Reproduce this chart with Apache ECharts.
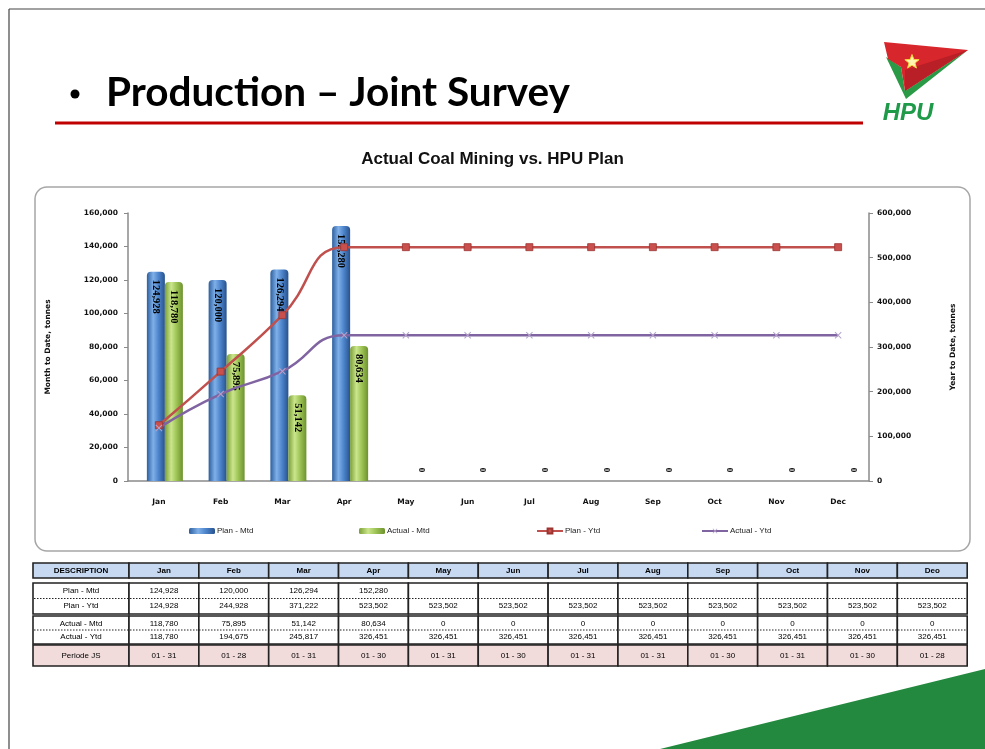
<!DOCTYPE html>
<html>
<head>
<meta charset="utf-8">
<script src="https://cdn.jsdelivr.net/npm/echarts@6/dist/echarts.min.js"></script>
<style>
html, body { margin: 0; padding: 0; background: #fff; }
#chart { width: 985px; height: 749px; }
</style>
</head>
<body>
<div id="chart"></div>
<script>
// data
var months = ['Jan', 'Feb', 'Mar', 'Apr', 'May', 'Jun', 'Jul', 'Aug', 'Sep', 'Oct', 'Nov', 'Dec'];
var tableMonths = ['Jan', 'Feb', 'Mar', 'Apr', 'May', 'Jun', 'Jul', 'Aug', 'Sep', 'Oct', 'Nov', 'Deo'];
var planMtd = [124928, 120000, 126294, 152280, null, null, null, null, null, null, null, null];
var actualMtd = [118780, 75895, 51142, 80634, 0, 0, 0, 0, 0, 0, 0, 0];
var planYtd = [124928, 244928, 371222, 523502, 523502, 523502, 523502, 523502, 523502, 523502, 523502, 523502];
var actualYtd = [118780, 194675, 245817, 326451, 326451, 326451, 326451, 326451, 326451, 326451, 326451, 326451];
var periode = ['01 - 31', '01 - 28', '01 - 31', '01 - 30', '01 - 31', '01 - 30', '01 - 31', '01 - 31', '01 - 30', '01 - 31', '01 - 30', '01 - 28'];
var mtdAxis = { min: 0, max: 160000, interval: 20000 };
var ytdAxis = { min: 0, max: 600000, interval: 100000 };

function fmt(v) {
  if (v === null || v === undefined) return '';
  return v.toLocaleString('en-US');
}

var myChart = echarts.init(document.getElementById('chart'));

var axisFont = { color: '#111', fontFamily: 'DejaVu Sans', fontWeight: 'bold', fontSize: 7.5 };
var barLabel = {
  show: true, position: 'insideTop', rotate: -90, align: 'left', verticalAlign: 'middle',
  distance: 8, color: '#000', fontFamily: 'Liberation Serif', fontWeight: 'bold', fontSize: 10.5,
  formatter: function (p) { return fmt(p.value); }
};

var blueGrad = new echarts.graphic.LinearGradient(0, 0, 1, 0, [
  { offset: 0, color: '#2d5f9f' }, { offset: 0.35, color: '#7fb0e8' },
  { offset: 0.65, color: '#4c84cb' }, { offset: 1, color: '#28528d' }
]);
var greenGrad = new echarts.graphic.LinearGradient(0, 0, 1, 0, [
  { offset: 0, color: '#7a9f36' }, { offset: 0.35, color: '#cbe68c' },
  { offset: 0.65, color: '#9dc355' }, { offset: 1, color: '#6d922e' }
]);

var actualMtdData = actualMtd.map(function (v) {
  if (v === 0) {
    return { value: 0, label: { position: 'top', distance: 11, rotate: -90, align: 'center', verticalAlign: 'middle', fontSize: 9 } };
  }
  return v;
});

// ---- table built from the same arrays ----
var tX0 = 33, descW = 96, colW = 69.85;
var graphics = [];
function cellX(i) { return tX0 + descW + colW * i; }
function addText(txt, x, y, opts) {
  opts = opts || {};
  graphics.push({
    type: 'text', z: 20,
    style: {
      text: txt, x: x, y: y, textAlign: opts.align || 'center', textVerticalAlign: 'middle',
      font: (opts.weight || 'normal') + ' ' + (opts.size || 8) + 'px "Liberation Sans", Arial, sans-serif',
      fill: opts.color || '#000'
    }
  });
}
function addRect(x, y, w, h, fill, stroke, lw) {
  graphics.push({
    type: 'rect', z: 19,
    shape: { x: x, y: y, width: w, height: h },
    style: { fill: fill, stroke: stroke, lineWidth: lw }
  });
}
function addLine(x1, y1, x2, y2, stroke, lw, dash) {
  graphics.push({
    type: 'line', z: 21,
    shape: { x1: x1, y1: y1, x2: x2, y2: y2 },
    style: { stroke: stroke, lineWidth: lw, lineDash: dash || null }
  });
}

// header row
var hY = 563, hH = 15;
addRect(tX0, hY, descW, hH, '#c6d9f1', '#222', 1.6);
addText('DESCRIPTION', tX0 + descW / 2, hY + hH / 2 + 0.5, { weight: 'bold', size: 8 });
tableMonths.forEach(function (m, i) {
  addRect(cellX(i), hY, colW, hH, '#c6d9f1', '#222', 1.6);
  addText(m, cellX(i) + colW / 2, hY + hH / 2 + 0.5, { weight: 'bold', size: 8 });
});

// grouped rows
function addGroup(y, h, labels, rows) {
  addRect(tX0, y, descW, h, '#fff', '#222', 1.6);
  addText(labels[0], tX0 + descW / 2, y + h / 4 + 0.5);
  addText(labels[1], tX0 + descW / 2, y + 3 * h / 4);
  for (var i = 0; i < 12; i++) {
    addRect(cellX(i), y, colW, h, '#fff', '#222', 1.6);
    addText(fmt(rows[0][i]), cellX(i) + colW / 2, y + h / 4 + 0.5);
    addText(fmt(rows[1][i]), cellX(i) + colW / 2, y + 3 * h / 4);
  }
  addLine(tX0 + 1, y + h / 2, cellX(12) - 1, y + h / 2, '#222', 1, [1.5, 1.5]);
}
addGroup(583, 31, ['Plan - Mtd', 'Plan - Ytd'], [planMtd, planYtd]);
addGroup(616, 28, ['Actual - Mtd', 'Actual - Ytd'], [actualMtd, actualYtd]);

// periode row
var pY = 645, pH = 21;
addRect(tX0, pY, descW, pH, '#f2dcdb', '#222', 1.6);
addText('Periode JS', tX0 + descW / 2, pY + pH / 2);
periode.forEach(function (p, i) {
  addRect(cellX(i), pY, colW, pH, '#f2dcdb', '#222', 1.6);
  addText(p, cellX(i) + colW / 2, pY + pH / 2);
});

// slide decoration
graphics.push(
  { type: 'line', z: 1, shape: { x1: 9, y1: 9, x2: 985, y2: 9 }, style: { stroke: '#444', lineWidth: 1.2 } },
  { type: 'line', z: 1, shape: { x1: 9, y1: 9, x2: 9, y2: 749 }, style: { stroke: '#444', lineWidth: 1.2 } },
  { type: 'circle', z: 5, shape: { cx: 75, cy: 94, r: 4.5 }, style: { fill: '#000' } },
  { type: 'text', z: 5, style: { text: 'Production – Joint Survey', x: 106, y: 93, textVerticalAlign: 'middle', font: 'bold 40.5px Lato, sans-serif', fill: '#000' } },
  { type: 'line', z: 5, shape: { x1: 55, y1: 123, x2: 863, y2: 123 }, style: { stroke: '#c00000', lineWidth: 3 } },
  { type: 'rect', z: 0, shape: { x: 35, y: 187, width: 935, height: 364, r: 12 }, style: { fill: '#fff', stroke: '#a6a6a6', lineWidth: 1.5 } },
  // logo
  { type: 'polygon', z: 5, shape: { points: [[886, 57], [901, 67], [905, 91], [968, 50], [906, 99], [897, 80]] }, style: { fill: '#2a9a46' } },
  { type: 'polygon', z: 6, shape: { points: [[884, 42], [968, 50], [905, 91], [901, 67], [888, 59]] }, style: { fill: '#d7262c' } },
  { type: 'polygon', z: 7, shape: { points: [[905, 70], [968, 50], [905, 91]] }, style: { fill: '#b81f27' } },
  { type: 'polygon', z: 8, shape: { points: (function () {
      var pts = [], cx = 912, cy = 62;
      for (var k = 0; k < 10; k++) {
        var r = k % 2 === 0 ? 7.5 : 3.2, a = -Math.PI / 2 + k * Math.PI / 5;
        pts.push([cx + r * Math.cos(a), cy + r * Math.sin(a)]);
      }
      return pts;
    })() }, style: { fill: '#fff6b0', stroke: '#f4d43a', lineWidth: 1 } },
  { type: 'text', z: 8, style: { text: 'HPU', x: 908, y: 113, textAlign: 'center', textVerticalAlign: 'middle', font: 'italic bold 24px "Liberation Sans", Arial, sans-serif', fill: '#1e9a48' } },
  { type: 'polygon', z: 5, shape: { points: [[660, 749], [985, 669], [985, 749]] }, style: { fill: '#23893f' } }
);

var option = {
  backgroundColor: '#fff',
  animation: false,
  title: {
    text: 'Actual Coal Mining vs. HPU Plan',
    left: 'center', top: 146,
    textStyle: { fontFamily: 'Liberation Sans', fontWeight: 'bold', fontSize: 17, color: '#111' }
  },
  graphic: graphics,
  legend: [
    { data: ['Plan - Mtd'], left: 184, top: 522 },
    { data: ['Actual - Mtd'], left: 354, top: 522 },
    { data: ['Plan - Ytd'], left: 531, top: 522 },
    { data: ['Actual - Ytd'], left: 696, top: 522 }
  ].map(function (l) {
    l.itemWidth = 26; l.itemHeight = 6; l.itemGap = 2;
    l.textStyle = { fontFamily: 'Liberation Sans', fontSize: 8, color: '#222', padding: [0, 0, 0, -3] };
    return l;
  }),
  grid: { left: 128, right: 116, top: 213, bottom: 268 },
  xAxis: {
    type: 'category', data: months,
    axisLine: { lineStyle: { color: '#8a8a8a', width: 1.5 } },
    axisTick: { length: 4, lineStyle: { color: '#8a8a8a' } },
    axisLabel: Object.assign({ margin: 17 }, axisFont)
  },
  yAxis: [
    {
      type: 'value', min: mtdAxis.min, max: mtdAxis.max, interval: mtdAxis.interval,
      name: 'Month to Date, tonnes', nameLocation: 'middle', nameRotate: 90, nameGap: 76,
      nameTextStyle: { fontFamily: 'DejaVu Sans', fontWeight: 'bold', fontSize: 7.5, color: '#111' },
      axisLine: { show: true, lineStyle: { color: '#8a8a8a', width: 1.5 } },
      axisTick: { show: true, length: 4, lineStyle: { color: '#8a8a8a' } },
      splitLine: { show: false },
      axisLabel: Object.assign({ margin: 10, formatter: fmt }, axisFont)
    },
    {
      type: 'value', min: ytdAxis.min, max: ytdAxis.max, interval: ytdAxis.interval, position: 'right',
      name: 'Year to Date, tonnes', nameLocation: 'middle', nameRotate: 90, nameGap: 80,
      nameTextStyle: { fontFamily: 'DejaVu Sans', fontWeight: 'bold', fontSize: 7.5, color: '#111' },
      axisLine: { show: true, lineStyle: { color: '#8a8a8a', width: 1.5 } },
      axisTick: { show: true, length: 4, lineStyle: { color: '#8a8a8a' } },
      splitLine: { show: false },
      axisLabel: Object.assign({ margin: 8, formatter: fmt }, axisFont)
    }
  ],
  series: [
    {
      // empty spacer slot: Excel leaves room on the left of the bar pair
      name: 'spacer', type: 'bar', yAxisIndex: 0, data: [], barWidth: 12, barGap: '0%'
    },
    {
      name: 'Plan - Mtd', type: 'bar', yAxisIndex: 0, data: planMtd,
      barWidth: 18, barGap: '0%',
      itemStyle: { color: blueGrad, borderRadius: [4, 4, 0, 0] },
      label: barLabel
    },
    {
      name: 'Actual - Mtd', type: 'bar', yAxisIndex: 0, data: actualMtdData,
      barWidth: 18, barGap: '0%',
      itemStyle: { color: greenGrad, borderRadius: [4, 4, 0, 0] },
      label: barLabel
    },
    {
      name: 'Plan - Ytd', type: 'line', yAxisIndex: 1, data: planYtd, smooth: true,
      lineStyle: { color: '#c0504d', width: 2.5 },
      symbol: 'rect', symbolSize: 7,
      itemStyle: { color: '#c9504d', borderColor: '#9c3431', borderWidth: 0.8 }
    },
    {
      name: 'Actual - Ytd', type: 'line', yAxisIndex: 1, data: actualYtd, smooth: true,
      lineStyle: { color: '#8064a2', width: 2.5 },
      symbol: 'path://M0,1L1,0L5,4L9,0L10,1L6,5L10,9L9,10L5,6L1,10L0,9L4,5Z', symbolSize: 7,
      itemStyle: { color: '#b5a3cc' }
    }
  ]
};

myChart.setOption(option);
</script>
</body>
</html>
